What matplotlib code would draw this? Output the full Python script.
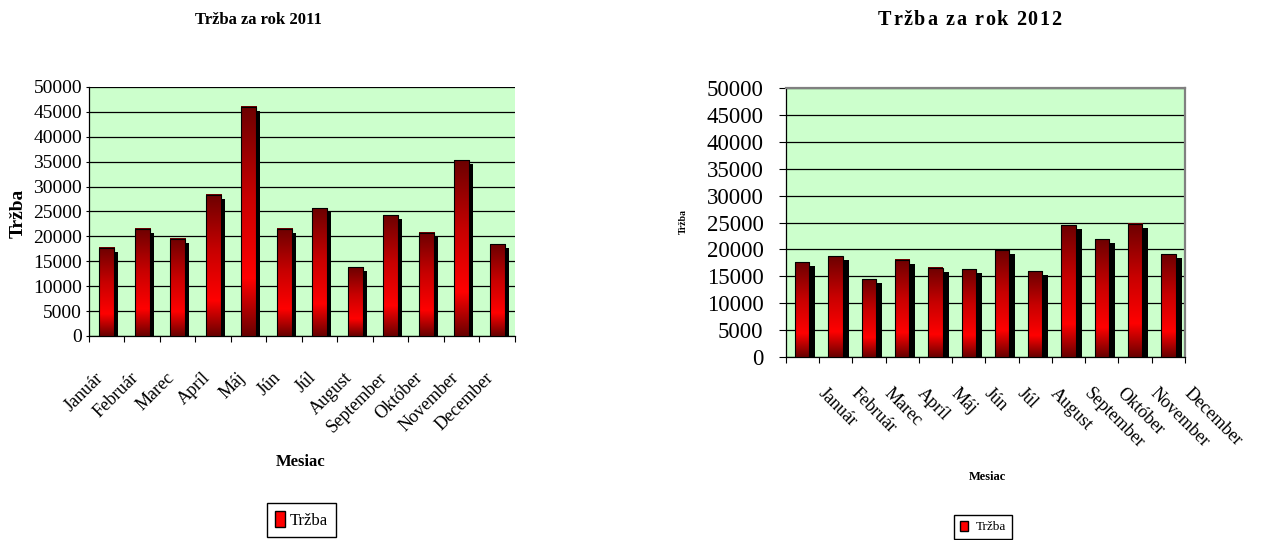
import numpy as np
import matplotlib
matplotlib.use("Agg")
import matplotlib.pyplot as plt
from matplotlib.colors import LinearSegmentedColormap
from matplotlib.patches import Patch
from matplotlib.transforms import ScaledTranslation

plt.rcParams['font.family'] = ['Liberation Serif', 'DejaVu Serif']

# údaje o tržbe po mesiacoch
mesiace = ['Január', 'Február', 'Marec', 'Apríl', 'Máj', 'Jún', 'Júl',
           'August', 'September', 'Október', 'November', 'December']
trzba_2011 = [17700, 21500, 19500, 28400, 46000, 21500, 25700,
              13800, 24200, 20700, 35300, 18400]
trzba_2012 = [17600, 18750, 14500, 18100, 16600, 16300, 19800,
              15900, 24500, 21900, 24800, 19100]

zelena = '#ccffcc'
cervena = LinearSegmentedColormap.from_list(
    'cervena', [(0.0, '#680000'), (0.25, '#ff0000'), (0.6, '#c80000'), (1.0, '#6c0000')])


def stlpce(ax, hodnoty, sirka, tien_x, tien_y):
    """stĺpce s prechodom farby a čiernym tieňom (tieň posunutý v pixeloch)"""
    fig = ax.figure
    x = np.arange(len(hodnoty))
    posun = ScaledTranslation(tien_x / fig.dpi, -tien_y / fig.dpi, fig.dpi_scale_trans)
    ax.bar(x, hodnoty, sirka, color='black', transform=ax.transData + posun, zorder=2)
    gradient = np.linspace(0, 1, 256).reshape(-1, 1)
    for xi, h in zip(x, hodnoty):
        ax.imshow(gradient, cmap=cervena, origin='lower', aspect='auto',
                  interpolation='bilinear', zorder=3,
                  extent=(xi - sirka / 2, xi + sirka / 2, 0, h))
    ax.bar(x, hodnoty, sirka, facecolor='none', edgecolor='black', linewidth=0.8, zorder=4)


def osi(ax, ypad, ytick):
    ax.set_facecolor(zelena)
    ax.set_xlim(-0.5, len(mesiace) - 0.5)
    ax.set_ylim(0, 50000)
    ax.set_yticks(np.arange(0, 50001, 5000))
    ax.set_axisbelow(True)
    ax.yaxis.grid(True, color='black', linewidth=0.9)
    ax.set_xticks(np.arange(len(mesiace)))
    ax.set_xticks(np.arange(len(mesiace) + 1) - 0.5, minor=True)
    ax.tick_params(axis='x', which='minor', length=4, width=0.8, direction='out')
    ax.tick_params(axis='y', length=ytick, width=0.8, pad=ypad)
    ax.spines['left'].set_linewidth(0.9)
    ax.spines['bottom'].set_linewidth(0.9)


def rozostupeny_text(fig, x, y, text, medzera, **kw):
    """text s väčšími medzerami medzi písmenami, (x, y) je stred"""
    r = fig.canvas.get_renderer()
    sirky = []
    for ch in text:
        t = fig.text(0, 0, ch, **kw)
        sirky.append(t.get_window_extent(r).width)
        t.remove()
    spolu = sum(sirky) + medzera * (len(text) - 1)
    W = fig.bbox.width
    px = x * W - spolu / 2
    for ch, w in zip(text, sirky):
        fig.text(px / W, y, ch, ha='left', va='center', **kw)
        px += w + medzera


fig = plt.figure(figsize=(12.64, 5.40), dpi=100)

# graf 2011
ax1 = fig.add_axes([0.0704, 0.3778, 0.3370, 0.4611])
stlpce(ax1, trzba_2011, 0.43, 4, 4)
osi(ax1, 3, 2)
ax1.spines['top'].set_visible(False)
ax1.spines['right'].set_visible(False)
ax1.set_xticklabels(mesiace, rotation=45, ha='right', va='top', fontsize=13)
ax1.tick_params(axis='x', which='major', length=0, pad=24)
for t in ax1.get_yticklabels():
    t.set_fontsize(14)
fig.text(0.2041, 0.963, 'Tržba za rok 2011', ha='center', va='center',
         fontsize=12, fontweight='bold')
fig.text(0.0142, 0.604, 'Tržba', rotation=90, ha='center', va='center',
         fontsize=14, fontweight='bold')
fig.text(0.238, 0.1444, 'Mesiac', ha='center', va='center', fontsize=12, fontweight='bold')
fig.legend(handles=[Patch(facecolor='#ff0000', edgecolor='black', label='Tržba')],
           loc='center', bbox_to_anchor=(0.2385, 0.037), fontsize=12,
           fancybox=False, edgecolor='black', framealpha=1,
           handlelength=0.6, handleheight=1.1, handletextpad=0.3, borderpad=0.5)

# graf 2012
ax2 = fig.add_axes([0.6216, 0.3394, 0.3159, 0.4971])
stlpce(ax2, trzba_2012, 0.43, 6, 4)
osi(ax2, 11, 5)
for s in ['top', 'right']:
    ax2.spines[s].set_color('#808080')
    ax2.spines[s].set_linewidth(1.6)
ax2.set_xticklabels(mesiace, rotation=-45, ha='left', va='top', fontsize=13)
ax2.tick_params(axis='x', which='major', length=0, pad=20)
posun_textu = ScaledTranslation(12 / fig.dpi, 0, fig.dpi_scale_trans)
for t in ax2.get_xticklabels():
    t.set_transform(t.get_transform() + posun_textu)
for t in ax2.get_yticklabels():
    t.set_fontsize(16.5)
rozostupeny_text(fig, 0.767, 0.963, 'Tržba za rok 2012', 1.6,
                 fontsize=14.5, fontweight='bold')
fig.text(0.5403, 0.589, 'Tržba', rotation=90, ha='center', va='center',
         fontsize=7, fontweight='bold')
fig.text(0.781, 0.117, 'Mesiac', ha='center', va='center', fontsize=9, fontweight='bold')
fig.legend(handles=[Patch(facecolor='#ff0000', edgecolor='black', label='Tržba')],
           loc='center', bbox_to_anchor=(0.778, 0.024), fontsize=9.5,
           fancybox=False, edgecolor='black', framealpha=1,
           handlelength=0.6, handleheight=0.8, handletextpad=0.6, borderpad=0.45,
           borderaxespad=0.2)

fig.savefig('out.png', dpi=100)
